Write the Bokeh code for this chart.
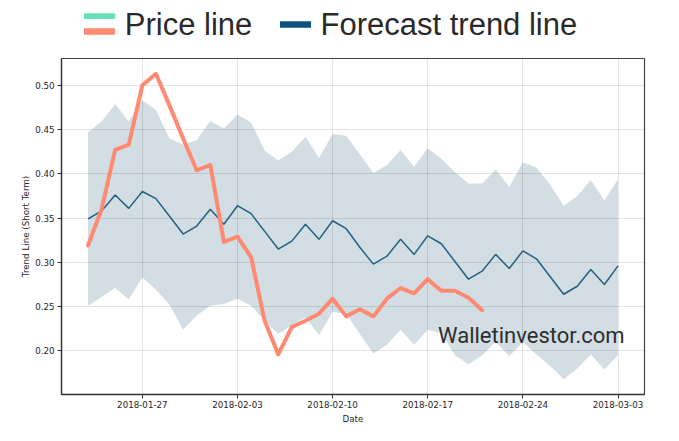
import pandas as pd
from bokeh.plotting import figure
from bokeh.layouts import column
from bokeh.models import (Range1d, FixedTicker, DatetimeTickFormatter, Label,
                          NumeralTickFormatter, ColumnDataSource)
from bokeh.core.properties import value
from bokeh.embed import file_html
from bokeh.resources import INLINE

# ---------------- data ----------------
start_date = "2018-01-23"
price = [0.319, 0.360, 0.427, 0.433, 0.500, 0.513, 0.477, 0.440, 0.404, 0.410,
         0.323, 0.329, 0.306, 0.234, 0.196, 0.227, 0.234, 0.242, 0.259, 0.239,
         0.247, 0.239, 0.259, 0.271, 0.265, 0.281, 0.268, 0.268, 0.260, 0.246]
forecast = [0.349, 0.358, 0.376, 0.361, 0.380, 0.372, 0.352, 0.332, 0.341, 0.360,
            0.343, 0.364, 0.355, 0.335, 0.315, 0.324, 0.343, 0.326, 0.347, 0.338,
            0.317, 0.298, 0.307, 0.326, 0.309, 0.330, 0.321, 0.301, 0.281, 0.290,
            0.309, 0.293, 0.313, 0.304, 0.284, 0.264, 0.273, 0.292, 0.275, 0.296]
upper = [0.447, 0.459, 0.479, 0.459, 0.483, 0.472, 0.440, 0.433, 0.438, 0.460,
         0.451, 0.467, 0.458, 0.426, 0.415, 0.425, 0.442, 0.418, 0.445, 0.443,
         0.422, 0.401, 0.410, 0.427, 0.408, 0.429, 0.417, 0.402, 0.389, 0.389,
         0.405, 0.385, 0.413, 0.407, 0.388, 0.364, 0.375, 0.393, 0.370, 0.394]
lower = [0.251, 0.261, 0.271, 0.258, 0.283, 0.269, 0.252, 0.224, 0.240, 0.251,
         0.253, 0.259, 0.251, 0.234, 0.219, 0.229, 0.238, 0.218, 0.244, 0.242,
         0.219, 0.197, 0.207, 0.224, 0.207, 0.224, 0.220, 0.195, 0.185, 0.195,
         0.210, 0.194, 0.210, 0.196, 0.183, 0.168, 0.180, 0.196, 0.179, 0.195]
x_tick_labels = ["2018-01-27", "2018-02-03", "2018-02-10", "2018-02-17",
                 "2018-02-24", "2018-03-03"]
y_ticks = [0.20, 0.25, 0.30, 0.35, 0.40, 0.45, 0.50]
legend_labels = ["Price line", "Forecast trend line"]
watermark = "Walletinvestor.com"

# ---------------- derived ----------------
f_dates = pd.date_range(start_date, periods=len(forecast), freq="D")
p_dates = f_dates[:len(price)]
src_f = ColumnDataSource(dict(x=f_dates, y=forecast, lo=lower, hi=upper))
src_p = ColumnDataSource(dict(x=p_dates, y=price))

x0, x1 = f_dates[0], f_dates[-1]
xpad = (x1 - x0) * 0.05
xs, xe = x0 - xpad, x1 + xpad
all_y = price + forecast + upper + lower
ymin, ymax = min(all_y), max(all_y)
ypad = (ymax - ymin) * 0.05
ys, ye = ymin - ypad, ymax + ypad

# page geometry (pixels)
W = 679
LEG_H = 50
FL, FR, FT, FB = 61, 644, 58, 394
MAIN_H = 441 - LEG_H


def px_x(px):
    return xs + (xe - xs) * ((px - FL) / (FR - FL))


def px_y(py):
    return ye - (ye - ys) * ((py - FT) / (FB - FT))


FONT = "DejaVu Sans"
TXT = "#262626"

# ---------------- legend strip ----------------
lg = figure(width=W, height=LEG_H, output_backend="svg", toolbar_location=None,
            x_range=Range1d(FL, FR), y_range=Range1d(LEG_H, 0),
            x_axis_location=None, y_axis_location=None,
            min_border_left=FL, min_border_right=W - FR,
            min_border_top=0, min_border_bottom=0)
lg.grid.visible = False
lg.outline_line_color = None
lg.quad(left=[83.5, 83.5, 279.5], right=[114.5, 114.5, 310.5],
        top=[12.7, 27.7, 20.7], bottom=[18.5, 34.3, 27.3],
        color=["#64dfb8", "#ff8b72", "#0e5282"], line_color=None)
lg.text(x=[124.3, 320.0], y=[23.6, 23.6], text=legend_labels,
        text_font=value("Liberation Sans"), text_font_size="31px",
        text_baseline="middle", text_align="left", text_color="#2a2a2a")

# ---------------- main plot ----------------
p = figure(width=W, height=MAIN_H, x_axis_type="datetime",
           output_backend="svg", toolbar_location=None,
           x_range=Range1d(xs, xe), y_range=Range1d(ys, ye),
           min_border_left=FL, min_border_right=W - FR,
           min_border_top=FT - LEG_H, min_border_bottom=441 - FB)

band = p.varea(x="x", y1="lo", y2="hi", source=src_f,
               fill_color="#1f5a7a", fill_alpha=0.2)
band.level = "underlay"
p.line(x="x", y="y", source=src_f, line_color="#24607f", line_width=1.5)
p.line(x="x", y="y", source=src_p, line_color="#ff8a72", line_width=4,
       line_join="round", line_cap="round")

p.add_layout(Label(x=px_x(437.5), y=px_y(335.2), text=watermark,
                   text_font="Roboto", text_font_size="22px",
                   text_color="#2e2e2e", text_baseline="middle",
                   text_align="left"))

tick_ms = [pd.Timestamp(t).value // 10**6 for t in x_tick_labels]
p.xaxis.ticker = FixedTicker(ticks=tick_ms)
fmt = "%Y-%m-%d"
p.xaxis.formatter = DatetimeTickFormatter(days=fmt, months=fmt, years=fmt,
                                          hours=fmt, minutes=fmt)
p.yaxis.ticker = FixedTicker(ticks=y_ticks)
p.yaxis.formatter = NumeralTickFormatter(format="0.00")

p.xaxis.axis_label = "Date"
p.yaxis.axis_label = "Trend Line (Short Term)"
for ax in (p.xaxis, p.yaxis):
    ax.axis_label_text_font = FONT
    ax.axis_label_text_font_size = "8.7px"
    ax.axis_label_text_font_style = "normal"
    ax.axis_label_text_color = TXT
    ax.major_label_text_font = FONT
    ax.major_label_text_font_size = "8.7px"
    ax.major_label_text_color = TXT
    ax.axis_line_color = "#333333"
    ax.axis_line_width = 1.3
    ax.major_tick_line_color = "#333333"
    ax.major_tick_in = 0
    ax.major_tick_out = 4
    ax.minor_tick_line_color = None
p.xaxis.major_label_standoff = 2
p.xaxis.axis_label_standoff = 3
p.yaxis.major_label_standoff = 3
p.yaxis.axis_label_standoff = 1

p.grid.grid_line_color = "black"
p.grid.grid_line_alpha = 0.1
p.grid.grid_line_width = 1
p.outline_line_color = "#444444"
p.outline_line_width = 1.2

layout = column(lg, p, spacing=0)
open("out.html", "w").write(file_html(layout, INLINE))
